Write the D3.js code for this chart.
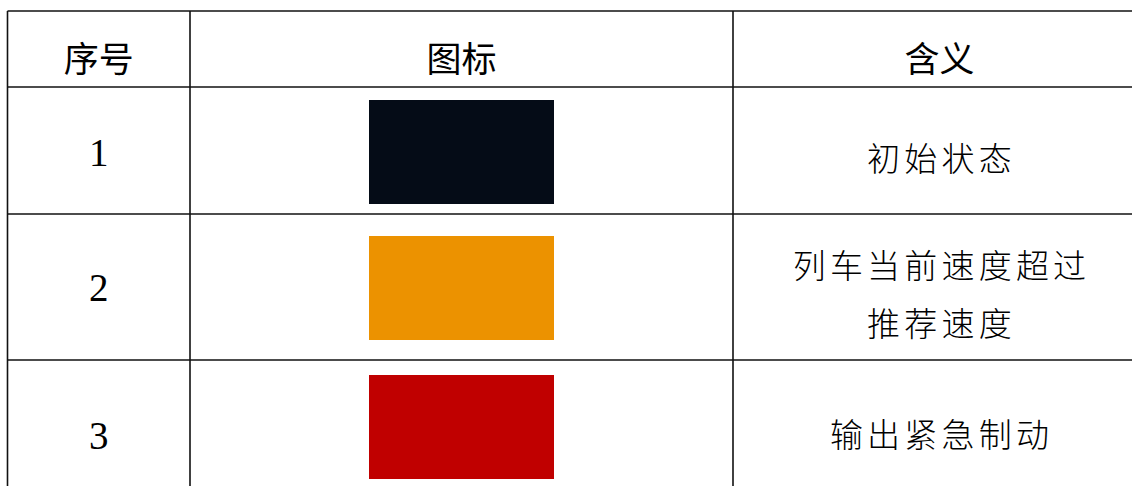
<!DOCTYPE html>
<html><head><meta charset="utf-8">
<script src="https://cdn.jsdelivr.net/npm/d3@7"></script>
<style>
html,body{margin:0;padding:0;background:#fff;overflow:hidden}
</style></head>
<body>
<svg id="c" width="1132" height="486"></svg>
<script>
// ---- data ----
const headers = ["序号", "图标", "含义"];
const ids = ["1", "2", "3"];
const iconColors = ["#050c17", "#ec9200", "#c00000"];
const meanings = [["初始状态"], ["列车当前速度超过", "推荐速度"], ["输出紧急制动"]];

// ---- layout ----
const colEdges = [7.5, 190, 733, 1146];
const rowEdges = [11, 87, 214, 360, 506];
const svg = d3.select("#c");

const x = d3.scaleOrdinal().domain([0,1,2]).range([0,1,2].map(i => (colEdges[i] + colEdges[i+1]) / 2));
const rowCenter = i => (rowEdges[i] + rowEdges[i+1]) / 2;

// grid lines
const g = svg.append("g").attr("stroke", "#111").attr("stroke-width", 1.6);
rowEdges.forEach(y => g.append("line").attr("x1", colEdges[0]).attr("x2", colEdges[3]).attr("y1", y).attr("y2", y));
colEdges.forEach(cx => g.append("line").attr("x1", cx).attr("x2", cx).attr("y1", rowEdges[0]).attr("y2", rowEdges[4]));

// headers
svg.append("g").selectAll("text").data(headers).join("text")
  .attr("x", (d, i) => x(i)).attr("y", 56)
  .attr("text-anchor", "middle").attr("dominant-baseline", "central")
  .attr("font-family", "'Noto Sans CJK SC', sans-serif").attr("font-size", 35)
  .attr("fill", "#000").text(d => d);

// ids
svg.append("g").selectAll("text").data(ids).join("text")
  .attr("x", x(0)).attr("y", (d, i) => rowCenter(i + 1) + [15, 14, 16][i])
  .attr("text-anchor", "middle")
  .attr("font-family", "'Liberation Serif', 'Times New Roman', serif").attr("font-size", 39)
  .attr("fill", "#000").text(d => d);

// icons
const boxW = 185, boxH = 104;
const boxTop = [100, 236, 375];
svg.append("g").selectAll("rect").data(iconColors).join("rect")
  .attr("x", x(1) - boxW / 2).attr("y", (d, i) => boxTop[i])
  .attr("width", boxW).attr("height", boxH).attr("fill", d => d);

// meanings
const lineCenters = [[157], [264, 322], [433]];
const mg = svg.append("g");
meanings.forEach((lines, i) => {
  lines.forEach((t, j) => {
    mg.append("text")
      .attr("x", x(2) + 2).attr("y", lineCenters[i][j])
      .attr("text-anchor", "middle").attr("dominant-baseline", "central")
      .attr("font-family", "'Noto Sans CJK SC', sans-serif").attr("font-weight", 300)
      .attr("font-size", 33).attr("letter-spacing", 4.2)
      .attr("fill", "#000").text(t);
  });
});
</script>
</body></html>
